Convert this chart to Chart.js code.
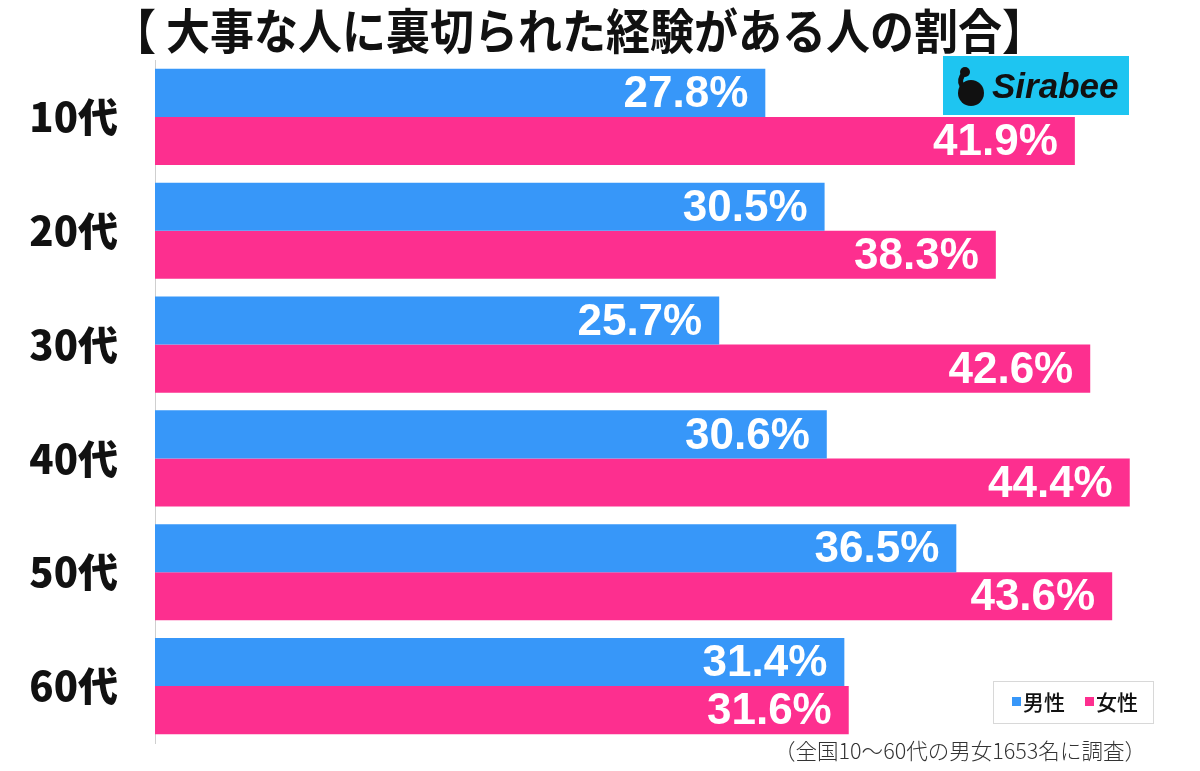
<!DOCTYPE html>
<html>
<head>
  <title>大事な人に裏切られた経験がある人の割合</title>
  <script src="https://cdn.jsdelivr.net/npm/chart.js@4.4.0/dist/chart.umd.min.js"></script>
  <style>
    html, body { margin: 0; padding: 0; background: #fff; }
    #wrap { width: 1200px; height: 771px; position: relative; }
  </style>
</head>
<body>
<div id="wrap"><canvas id="myChart" width="1200" height="771"></canvas></div>

<script>
const ageGroups = ['10代', '20代', '30代', '40代', '50代', '60代'];
const seriesNames = ['男性', '女性'];
const menValues = [27.8, 30.5, 25.7, 30.6, 36.5, 31.4];
const womenValues = [41.9, 38.3, 42.6, 44.4, 43.6, 31.6];
const barColors = ['#3797f9', '#fd2f8f'];

const titleText = '【 大事な人に裏切られた経験がある人の割合】';
const noteText = '（全国10〜60代の男女1653名に調査）';

const jpFont = '"Noto Sans CJK JP", "Noto Sans", sans-serif';

// white % labels drawn inside the bar ends
const barLabels = {
  id: 'barLabels',
  afterDatasetsDraw(chart) {
    const ctx = chart.ctx;
    ctx.save();
    ctx.fillStyle = '#fff';
    ctx.font = 'bold 44px "Liberation Sans", Arial, sans-serif';
    ctx.textAlign = 'right';
    ctx.textBaseline = 'middle';
    chart.data.datasets.forEach((ds, i) => {
      chart.getDatasetMeta(i).data.forEach((bar, j) => {
        ctx.fillText(ds.data[j].toFixed(1) + '%', bar.x - 17, bar.y + 2);
      });
    });
    ctx.restore();
  }
};

// title, logo, legend box and footnote
const decorations = {
  id: 'decorations',
  afterDraw(chart) {
    const ctx = chart.ctx;
    ctx.save();

    ctx.fillStyle = '#111';
    ctx.textBaseline = 'middle';
    ctx.textAlign = 'left';
    ctx.font = 'bold 48px ' + jpFont;
    ctx.fillText(titleText, 112, 31, 934);

    // logo
    ctx.fillStyle = '#1ec5f1';
    ctx.fillRect(943, 56, 186, 59);
    ctx.fillStyle = '#111';
    ctx.beginPath();
    ctx.arc(971, 93, 13, 0, Math.PI * 2);
    ctx.fill();
    ctx.beginPath();
    ctx.arc(965, 72, 5, 0, Math.PI * 2);
    ctx.fill();
    ctx.lineWidth = 5;
    ctx.strokeStyle = '#111';
    ctx.beginPath();
    ctx.moveTo(965, 72);
    ctx.quadraticCurveTo(958, 80, 962, 86);
    ctx.stroke();
    ctx.font = 'italic bold 35px "Liberation Sans", Arial, sans-serif';
    ctx.fillText('Sirabee', 992, 88);

    // legend
    ctx.fillStyle = '#fff';
    ctx.fillRect(993, 681, 160, 42);
    ctx.strokeStyle = '#d8d8d8';
    ctx.lineWidth = 1;
    ctx.strokeRect(993.5, 681.5, 160, 42);
    ctx.font = '500 21px ' + jpFont;
    const legendX = [1012, 1085];
    seriesNames.forEach((name, i) => {
      ctx.fillStyle = barColors[i];
      ctx.fillRect(legendX[i], 697, 9, 9);
      ctx.fillStyle = '#111';
      ctx.fillText(name, legendX[i] + 11, 702);
    });

    // footnote
    ctx.fillStyle = '#333';
    ctx.font = '300 22px ' + jpFont;
    ctx.fillText(noteText, 774, 751, 372);

    ctx.restore();
  }
};

new Chart('myChart', {
  type: 'bar',
  data: {
    labels: ageGroups,
    datasets: [
      { label: seriesNames[0], data: menValues, backgroundColor: barColors[0] },
      { label: seriesNames[1], data: womenValues, backgroundColor: barColors[1] }
    ]
  },
  options: {
    indexAxis: 'y',
    responsive: false,
    animation: false,
    layout: { padding: { top: 60, bottom: 28, left: 0, right: 0 } },
    datasets: {
      bar: { categoryPercentage: 0.845, barPercentage: 1.0, borderWidth: 0 }
    },
    plugins: {
      legend: { display: false },
      title: { display: false },
      tooltip: { enabled: false }
    },
    scales: {
      x: { display: false, min: 0, max: 47.6 },
      y: {
        grid: { display: false, drawTicks: false },
        border: { display: true, color: '#cfcfcf', width: 1 },
        ticks: {
          color: '#111',
          padding: 37,
          font: { family: jpFont, size: 40, weight: 900 }
        },
        afterFit(scale) {
          scale.width = 155;
          scale.paddingTop = 0;
          scale.paddingBottom = 0;
        }
      }
    }
  },
  plugins: [barLabels, decorations]
});
</script>
</body>
</html>
